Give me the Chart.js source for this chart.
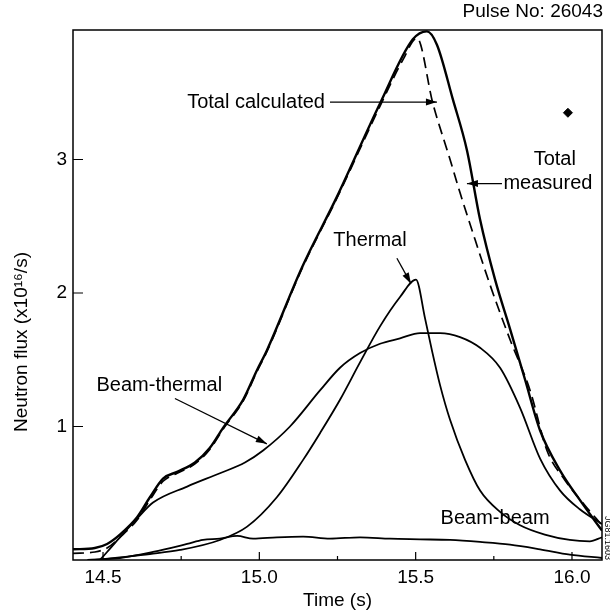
<!DOCTYPE html>
<html>
<head>
<meta charset="utf-8">
<script src="https://cdn.jsdelivr.net/npm/chart.js@4.4.1/dist/chart.umd.min.js"></script>
<style>
  html, body { margin: 0; padding: 0; background: #fff; }
  #wrap { width: 610px; height: 614px; }
</style>
</head>
<body>
<div id="wrap"><canvas id="flux"></canvas></div>
<script>
// values: time in s, neutron flux in 10^16 /s
var measT = [14.404, 14.474, 14.513, 14.554, 14.609, 14.650, 14.692, 14.737, 14.794, 14.842, 14.884, 14.948, 14.992, 15.024, 15.136, 15.248, 15.386, 15.491, 15.536, 15.568, 15.619, 15.664, 15.706, 15.754, 15.802, 15.850, 15.898, 15.962, 16.025, 16.096];
var measV = [0.08, 0.09, 0.12, 0.19, 0.32, 0.47, 0.61, 0.66, 0.73, 0.84, 0.99, 1.20, 1.42, 1.57, 2.19, 2.72, 3.42, 3.90, 3.96, 3.86, 3.45, 3.07, 2.55, 2.10, 1.73, 1.35, 0.97, 0.67, 0.45, 0.22];

var calcT = [14.404, 14.474, 14.513, 14.554, 14.609, 14.650, 14.692, 14.737, 14.794, 14.842, 14.884, 14.948, 14.992, 15.024, 15.136, 15.248, 15.386, 15.460, 15.504, 15.555, 15.610, 15.642, 15.690, 15.738, 15.802, 15.866, 15.920, 15.977, 16.041, 16.096];
var calcV = [0.05, 0.06, 0.09, 0.17, 0.30, 0.45, 0.59, 0.65, 0.72, 0.83, 0.98, 1.19, 1.41, 1.56, 2.18, 2.71, 3.40, 3.75, 3.91, 3.42, 3.00, 2.75, 2.40, 2.06, 1.65, 1.27, 0.82, 0.60, 0.41, 0.26];

var thermT = [14.474, 14.554, 14.650, 14.746, 14.874, 14.961, 15.056, 15.140, 15.194, 15.258, 15.322, 15.386, 15.450, 15.501, 15.530, 15.552, 15.578, 15.610, 15.658, 15.706, 15.770, 15.834, 15.913, 15.993, 16.057, 16.096];
var thermV = [0.0, 0.02, 0.045, 0.075, 0.15, 0.25, 0.47, 0.75, 0.95, 1.20, 1.48, 1.75, 1.97, 2.10, 1.81, 1.57, 1.31, 1.05, 0.75, 0.52, 0.36, 0.26, 0.19, 0.15, 0.14, 0.17];

var btT = [14.490, 14.513, 14.554, 14.609, 14.660, 14.769, 14.874, 14.954, 15.012, 15.098, 15.194, 15.258, 15.322, 15.386, 15.450, 15.514, 15.578, 15.642, 15.706, 15.770, 15.834, 15.898, 15.962, 16.025, 16.096];
var btV = [0.0, 0.06, 0.17, 0.31, 0.43, 0.55, 0.65, 0.73, 0.82, 1.00, 1.27, 1.44, 1.55, 1.62, 1.66, 1.70, 1.70, 1.67, 1.59, 1.44, 1.14, 0.76, 0.52, 0.38, 0.27];

var bbT = [14.450, 14.554, 14.660, 14.769, 14.820, 14.874, 14.929, 14.980, 15.056, 15.140, 15.226, 15.322, 15.418, 15.514, 15.610, 15.706, 15.802, 15.898, 15.993, 16.096];
var bbV = [0.0, 0.015, 0.06, 0.12, 0.15, 0.16, 0.18, 0.16, 0.17, 0.175, 0.16, 0.17, 0.16, 0.155, 0.15, 0.135, 0.115, 0.08, 0.04, 0.015];

var markT = [15.987];
var markV = [3.35];

var xTicks = [14.5, 15.0, 15.5, 16.0];
var xMinor = [14.75, 15.25, 15.75];
var yTicks = [1, 2, 3];

function pts(t, v) {
  return t.map(function(x, i) { return { x: x, y: v[i] }; });
}

var FONT = '"Liberation Sans", Arial, Helvetica, sans-serif';

// text labels and arrows, placed in data units
var labels = [
  { text: 'Total calculated', t: 15.210, v: 3.43, align: 'right' },
  { text: 'Total', t: 15.945, v: 3.00, align: 'center' },
  { text: 'measured', t: 15.923, v: 2.82, align: 'center' },
  { text: 'Thermal', t: 15.354, v: 2.39, align: 'center' },
  { text: 'Beam-thermal', t: 14.680, v: 1.31, align: 'center' },
  { text: 'Beam-beam', t: 15.754, v: 0.31, align: 'center' }
];
var arrows = [
  [15.226, 3.43, 15.568, 3.43],
  [15.776, 2.82, 15.664, 2.82],
  [15.440, 2.26, 15.485, 2.07],
  [14.730, 1.21, 15.024, 0.87]
];

var decor = {
  id: 'decor',
  afterDraw: function(chart) {
    var ctx = chart.ctx, a = chart.chartArea;
    var xs = chart.scales.x, ys = chart.scales.y;
    ctx.save();
    ctx.strokeStyle = '#000';
    ctx.fillStyle = '#000';
    ctx.lineWidth = 1.5;
    ctx.strokeRect(a.left, a.top, a.right - a.left, a.bottom - a.top);

    ctx.lineWidth = 1.2;
    ctx.beginPath();
    yTicks.forEach(function(v) {
      var y = ys.getPixelForValue(v);
      ctx.moveTo(a.left, y); ctx.lineTo(a.left + 10, y);
    });
    xTicks.forEach(function(v) {
      var x = xs.getPixelForValue(v);
      ctx.moveTo(x, a.bottom); ctx.lineTo(x, a.bottom - 8);
    });
    xMinor.forEach(function(v) {
      var x = xs.getPixelForValue(v);
      ctx.moveTo(x, a.bottom); ctx.lineTo(x, a.bottom - 4);
    });
    ctx.stroke();

    ctx.font = '20px ' + FONT;
    ctx.textBaseline = 'middle';
    labels.forEach(function(l) {
      ctx.textAlign = l.align;
      ctx.fillText(l.text, xs.getPixelForValue(l.t), ys.getPixelForValue(l.v));
    });

    ctx.lineWidth = 1.3;
    arrows.forEach(function(r) {
      var x0 = xs.getPixelForValue(r[0]), y0 = ys.getPixelForValue(r[1]);
      var x1 = xs.getPixelForValue(r[2]), y1 = ys.getPixelForValue(r[3]);
      var ang = Math.atan2(y1 - y0, x1 - x0);
      ctx.beginPath();
      ctx.moveTo(x0, y0); ctx.lineTo(x1, y1);
      ctx.stroke();
      ctx.beginPath();
      ctx.moveTo(x1, y1);
      ctx.lineTo(x1 - 11 * Math.cos(ang) + 3.5 * Math.sin(ang), y1 - 11 * Math.sin(ang) - 3.5 * Math.cos(ang));
      ctx.lineTo(x1 - 11 * Math.cos(ang) - 3.5 * Math.sin(ang), y1 - 11 * Math.sin(ang) + 3.5 * Math.cos(ang));
      ctx.closePath();
      ctx.fill();
    });

    // header and axis title
    ctx.font = '19px ' + FONT;
    ctx.textAlign = 'right';
    ctx.fillText('Pulse No: 26043', a.right + 1, 12);

    ctx.save();
    ctx.translate(22, 342);
    ctx.rotate(-Math.PI / 2);
    ctx.textAlign = 'center';
    ctx.font = '19px ' + FONT;
    ctx.fillText('Neutron flux (x10\u00b9\u2076/s)', 0, 0);
    ctx.restore();

    ctx.save();
    ctx.translate(a.right + 5, 538);
    ctx.rotate(Math.PI / 2);
    ctx.textAlign = 'center';
    ctx.font = '9px ' + FONT;
    ctx.fillText('JG81.1603', 0, 0);
    ctx.restore();

    ctx.restore();
  }
};

var lineStyle = { borderColor: '#000', pointRadius: 0, fill: false, cubicInterpolationMode: 'monotone' };

new Chart(document.getElementById('flux'), {
  type: 'line',
  data: {
    datasets: [
      Object.assign({ label: 'Total measured', data: pts(measT, measV), borderWidth: 2.4 }, lineStyle),
      Object.assign({ label: 'Total calculated', data: pts(calcT, calcV), borderWidth: 1.7, borderDash: [11, 6] }, lineStyle),
      Object.assign({ label: 'Thermal', data: pts(thermT, thermV), borderWidth: 1.8 }, lineStyle),
      Object.assign({ label: 'Beam-thermal', data: pts(btT, btV), borderWidth: 1.8 }, lineStyle),
      Object.assign({ label: 'Beam-beam', data: pts(bbT, bbV), borderWidth: 1.8 }, lineStyle),
      { label: 'marker', data: pts(markT, markV), showLine: false, pointStyle: 'rectRot', pointRadius: 4.5,
        backgroundColor: '#000', borderColor: '#000' }
    ]
  },
  options: {
    responsive: true,
    maintainAspectRatio: false,
    animation: false,
    layout: { padding: { top: 30, right: 8, left: 0, bottom: 0 } },
    plugins: { legend: { display: false }, tooltip: { enabled: false } },
    scales: {
      x: {
        type: 'linear', min: 14.404, max: 16.096,
        grid: { display: false, drawTicks: false },
        border: { display: false },
        afterBuildTicks: function(s) { s.ticks = xTicks.map(function(v) { return { value: v }; }); },
        afterFit: function(s) { s.height = 54; },
        ticks: { color: '#000', padding: 6, font: { family: FONT, size: 19 },
                 callback: function(v) { return Number(v).toFixed(1); } },
        title: { display: true, text: 'Time (s)', color: '#000', font: { family: FONT, size: 19 },
                 padding: { top: 0, bottom: 2 } }
      },
      y: {
        min: 0, max: 3.97,
        grid: { display: false, drawTicks: false },
        border: { display: false },
        afterBuildTicks: function(s) { s.ticks = yTicks.map(function(v) { return { value: v }; }); },
        afterFit: function(s) { s.width = 73; },
        ticks: { color: '#000', padding: 6, font: { family: FONT, size: 19 } }
      }
    }
  },
  plugins: [decor]
});
</script>
</body>
</html>
